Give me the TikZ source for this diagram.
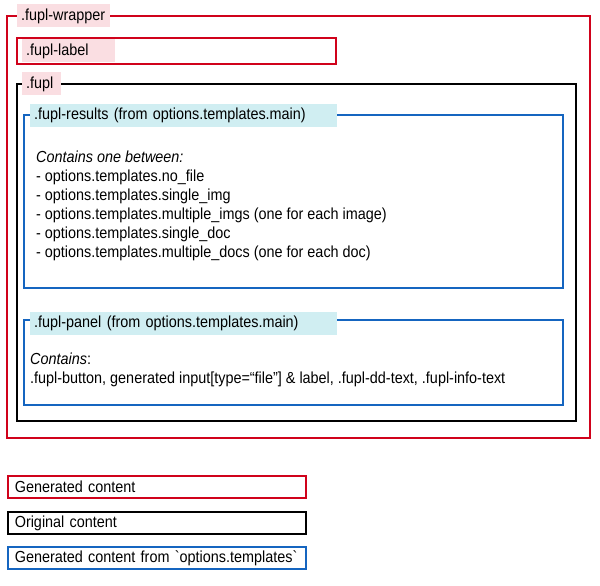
\documentclass[tikz,border=0pt]{standalone}
\usepackage{fontspec}
\setmainfont[FakeStretch=0.9]{Liberation Sans}
\newfontfamily\rawfont[FakeStretch=0.9, Ligatures=TeXOff]{Liberation Sans}
\definecolor{fuplred}{RGB}{208,2,27}
\definecolor{fuplblue}{RGB}{21,101,192}
\definecolor{pinkfill}{RGB}{250,222,226}
\definecolor{cyanfill}{RGB}{208,238,242}
\tikzset{
  tag/.style={anchor=west, inner xsep=4pt, inner ysep=0pt, minimum height=23pt, align=left},
  redbox/.style={draw=fuplred, line width=1.6pt},
  blackbox/.style={draw=black, line width=1.6pt},
  bluebox/.style={draw=fuplblue, line width=1.6pt},
  keybox/.style={anchor=west, line width=1.6pt, inner xsep=7pt, inner ysep=0pt, minimum height=22pt, text width=284pt, align=left},
}
\begin{document}
\begin{tikzpicture}[x=1pt, y=-1pt, font=\fontsize{16}{19}\selectfont]
    \useasboundingbox (0,0) rectangle (600,586);
    % nested boxes
    \draw[redbox] (7,16) rectangle (590,438);
    \draw[redbox] (17,38) rectangle (336,64);
    \draw[blackbox] (17,84) rectangle (576,421);
    \draw[bluebox] (24,115) rectangle (563,288);
    \draw[bluebox] (24,320) rectangle (563,405);
    % tags on the box edges
    \node[tag, fill=pinkfill, text width=85pt] (wraptag) at (17,16) {.fupl-wrapper};
    \node[tag, fill=pinkfill, text width=85pt] (labeltag) at (22,51) {.fupl-label};
    \node[tag, fill=pinkfill, text width=31pt] (fupltag) at (22,84) {.fupl};
    \node[tag, fill=cyanfill, text width=299pt] (resultstag) at (30,115) {.fupl-results (from options.templates.main)};
    \node[tag, fill=cyanfill, text width=299pt] (paneltag) at (30,323) {.fupl-panel (from options.templates.main)};
    % box contents
    \node[anchor=north west, inner sep=0pt, align=left] (resultstext) at (36,151) {\textit{Contains one between:}\\
      - options.templates.no\_file\\
      - options.templates.single\_img\\
      - options.templates.multiple\_imgs (one for each image)\\
      - options.templates.single\_doc\\
      - options.templates.multiple\_docs (one for each doc)};
    \node[anchor=north west, inner sep=0pt, align=left] (paneltext) at (30,353) {\textit{Contains}:\\
      .fupl-button, generated input[type=“file”] \& label, .fupl-dd-text, .fupl-info-text};
    % legend
    \node[keybox, draw=fuplred] (genkey) at (7,487) {Generated content};
    \node[keybox, draw=black] (origkey) at (7,523) {Original content};
    \node[keybox, draw=fuplblue] (tplkey) at (7,558) {Generated content from {\rawfont`}options.templates{\rawfont`}};
\end{tikzpicture}
\end{document}
